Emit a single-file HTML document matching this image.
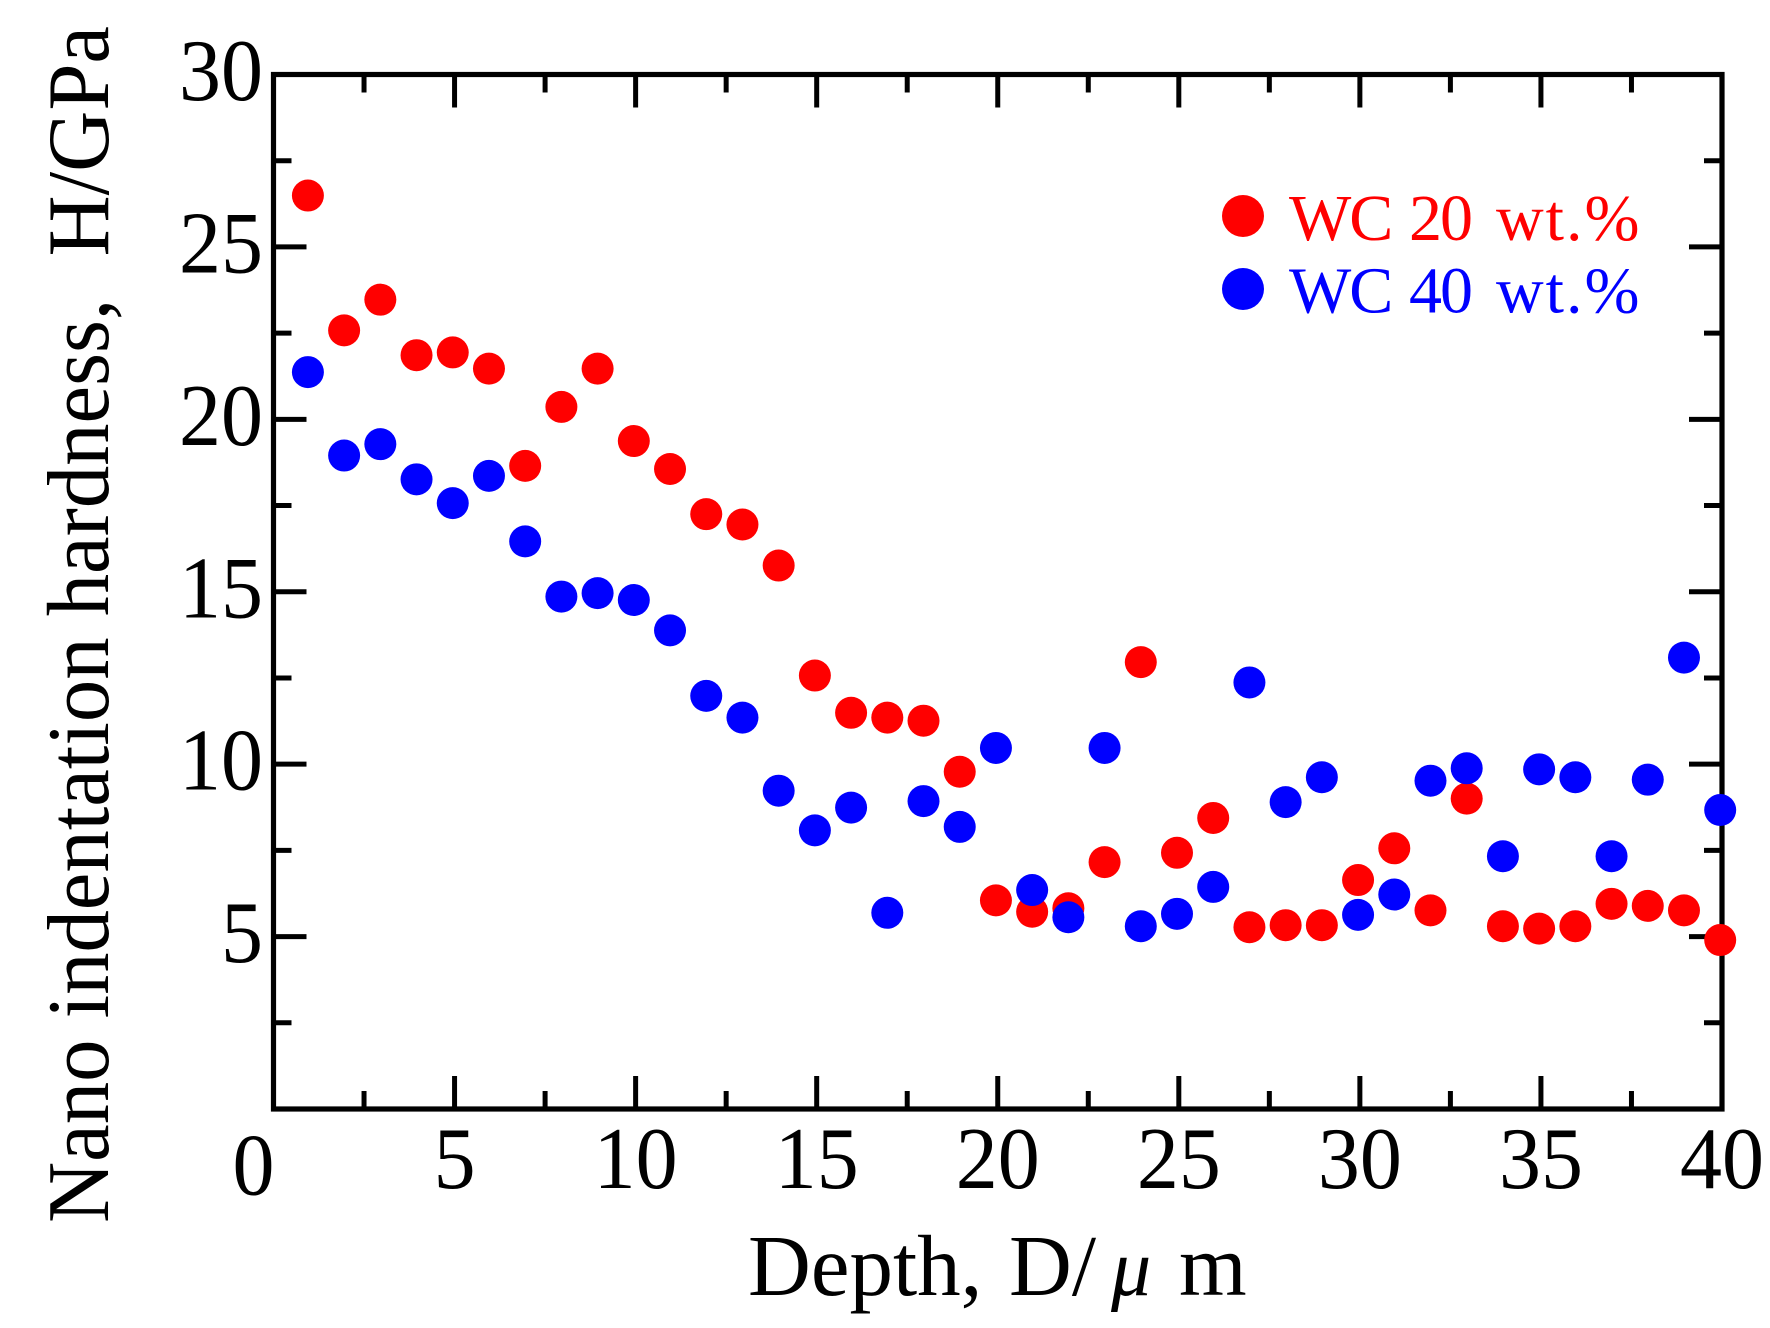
<!DOCTYPE html>
<html lang="en">
<head>
<meta charset="utf-8">
<title>Nano indentation hardness vs depth</title>
<style>
  html, body { margin: 0; padding: 0; background: #fff; }
  svg { display: block; }
  text { font-family: "Liberation Serif", serif; fill: #000; }
</style>
</head>
<body>
<svg id="chart" xmlns="http://www.w3.org/2000/svg" width="1770" height="1328" viewBox="0 0 1770 1328">
  <rect x="0" y="0" width="1770" height="1328" fill="#fff"/>
  <g id="ticks"></g>
  <rect x="273.5" y="74.5" width="1448.5" height="1034.5" fill="none" stroke="#000" stroke-width="5.2"/>
  <g id="tick-labels" font-size="88"></g>
  <text x="253.5" y="1194.5" font-size="88" text-anchor="middle" textLength="42" lengthAdjust="spacingAndGlyphs">0</text>
  <g id="series-wc20"></g>
  <g id="series-wc40"></g>
  <text transform="translate(108 1223) rotate(-90)" font-size="88" textLength="1197" lengthAdjust="spacingAndGlyphs">Nano indentation hardness,&#160;&#160;H/GPa</text>
  <text y="1295" font-size="87"><tspan x="748">Depth,</tspan><tspan x="1009">D/</tspan><tspan x="1111" font-style="italic" font-size="80">μ</tspan><tspan x="1179">m</tspan></text>
  <g>
    <circle cx="1243" cy="216" r="21" fill="#f00"/>
    <text y="240" font-size="66" style="fill:#f00"><tspan x="1289" letter-spacing="-2">WC</tspan><tspan x="1409" letter-spacing="-2">20</tspan><tspan x="1496" letter-spacing="2">wt.%</tspan></text>
    <circle cx="1243" cy="289" r="21" fill="#00f"/>
    <text y="312.5" font-size="66" style="fill:#00f"><tspan x="1289" letter-spacing="-2">WC</tspan><tspan x="1409" letter-spacing="-2">40</tspan><tspan x="1496" letter-spacing="2">wt.%</tspan></text>
  </g>
</svg>
<script>
const depths = [0.95,1.95,2.95,3.95,4.95,5.95,6.95,7.95,8.95,9.95,10.95,11.95,12.95,13.95,14.95,15.95,16.95,17.95,18.95,19.95,20.95,21.95,22.95,23.95,24.95,25.95,26.95,27.95,28.95,29.95,30.95,31.95,32.95,33.95,34.95,35.95,36.95,37.95,38.95,39.95];
const hardnessWC20 = [26.49,22.58,23.47,21.86,21.94,21.47,18.65,20.36,21.47,19.37,18.56,17.25,16.95,15.76,12.57,11.49,11.35,11.26,9.78,6.05,5.72,5.82,7.16,12.96,7.43,8.44,5.27,5.33,5.33,6.64,7.56,5.76,9.00,5.30,5.23,5.30,5.95,5.89,5.76,4.90];
const hardnessWC40 = [21.37,18.95,19.28,18.26,17.57,18.36,16.46,14.86,14.96,14.76,13.88,11.98,11.35,9.23,8.08,8.74,5.69,8.93,8.18,10.47,6.35,5.56,10.47,5.30,5.66,6.44,12.37,8.90,9.62,5.63,6.22,9.52,9.88,7.33,9.85,9.62,7.33,9.55,13.09,8.67];
const xTickLabels = [5,10,15,20,25,30,35,40];
const yTickLabels = [5,10,15,20,25,30];
const xMinorTicks = [2.5,7.5,12.5,17.5,22.5,27.5,32.5,37.5];
const yMinorTicks = [2.5,7.5,12.5,17.5,22.5,27.5];

const NS = 'http://www.w3.org/2000/svg';
const plotLeft = 273.5, plotRight = 1722, plotTop = 74.5, plotBottom = 1109;
const xMax = 40, yMax = 30;
const majorLen = 33, minorLen = 18, tickWidth = 5;
const digitAdvance = 42;
const xScale = v => plotLeft + (v / xMax) * (plotRight - plotLeft);
const yScale = v => plotBottom - (v / yMax) * (plotBottom - plotTop);

const ticksG = document.getElementById('ticks');
const labelsG = document.getElementById('tick-labels');

function addTick(x1, y1, x2, y2, name) {
  const l = document.createElementNS(NS, 'line');
  l.setAttribute('x1', x1);
  l.setAttribute('y1', y1);
  l.setAttribute('x2', x2);
  l.setAttribute('y2', y2);
  l.setAttribute('stroke', '#000');
  l.setAttribute('stroke-width', tickWidth);
  
  
  ticksG.appendChild(l);
}

xTickLabels.forEach(v => {
  const x = xScale(v);
  addTick(x, plotBottom, x, plotBottom - majorLen, 'x-major-tick-bottom');
  addTick(x, plotTop, x, plotTop + majorLen, 'x-major-tick-top');
  const t = document.createElementNS(NS, 'text');
  t.setAttribute('x', x);
  t.setAttribute('y', 1188);
  t.setAttribute('text-anchor', 'middle');
  t.setAttribute('textLength', String(v).length * digitAdvance);
  t.setAttribute('lengthAdjust', 'spacingAndGlyphs');
  
  
  t.textContent = v;
  labelsG.appendChild(t);
});
xMinorTicks.forEach(v => {
  const x = xScale(v);
  addTick(x, plotBottom, x, plotBottom - minorLen, 'x-minor-tick-bottom');
  addTick(x, plotTop, x, plotTop + minorLen, 'x-minor-tick-top');
});
yTickLabels.forEach(v => {
  const y = yScale(v);
  addTick(plotLeft, y, plotLeft + majorLen, y, 'y-major-tick-left');
  addTick(plotRight, y, plotRight - majorLen, y, 'y-major-tick-right');
  const t = document.createElementNS(NS, 'text');
  t.setAttribute('x', 263);
  t.setAttribute('y', y + 25.5);
  t.setAttribute('text-anchor', 'end');
  t.setAttribute('textLength', String(v).length * digitAdvance);
  t.setAttribute('lengthAdjust', 'spacingAndGlyphs');
  
  
  t.textContent = v;
  labelsG.appendChild(t);
});
yMinorTicks.forEach(v => {
  const y = yScale(v);
  addTick(plotLeft, y, plotLeft + minorLen, y, 'y-minor-tick-left');
  addTick(plotRight, y, plotRight - minorLen, y, 'y-minor-tick-right');
});

function drawSeries(groupId, values, color, name) {
  const g = document.getElementById(groupId);
  values.forEach((v, i) => {
    const c = document.createElementNS(NS, 'circle');
    c.setAttribute('cx', xScale(depths[i]));
    c.setAttribute('cy', yScale(v));
    c.setAttribute('r', 16);
    c.setAttribute('fill', color);
    
    
    g.appendChild(c);
  });
}
drawSeries('series-wc20', hardnessWC20, '#f00', 'point-wc-20');
drawSeries('series-wc40', hardnessWC40, '#00f', 'point-wc-40');
</script>
</body>
</html>
